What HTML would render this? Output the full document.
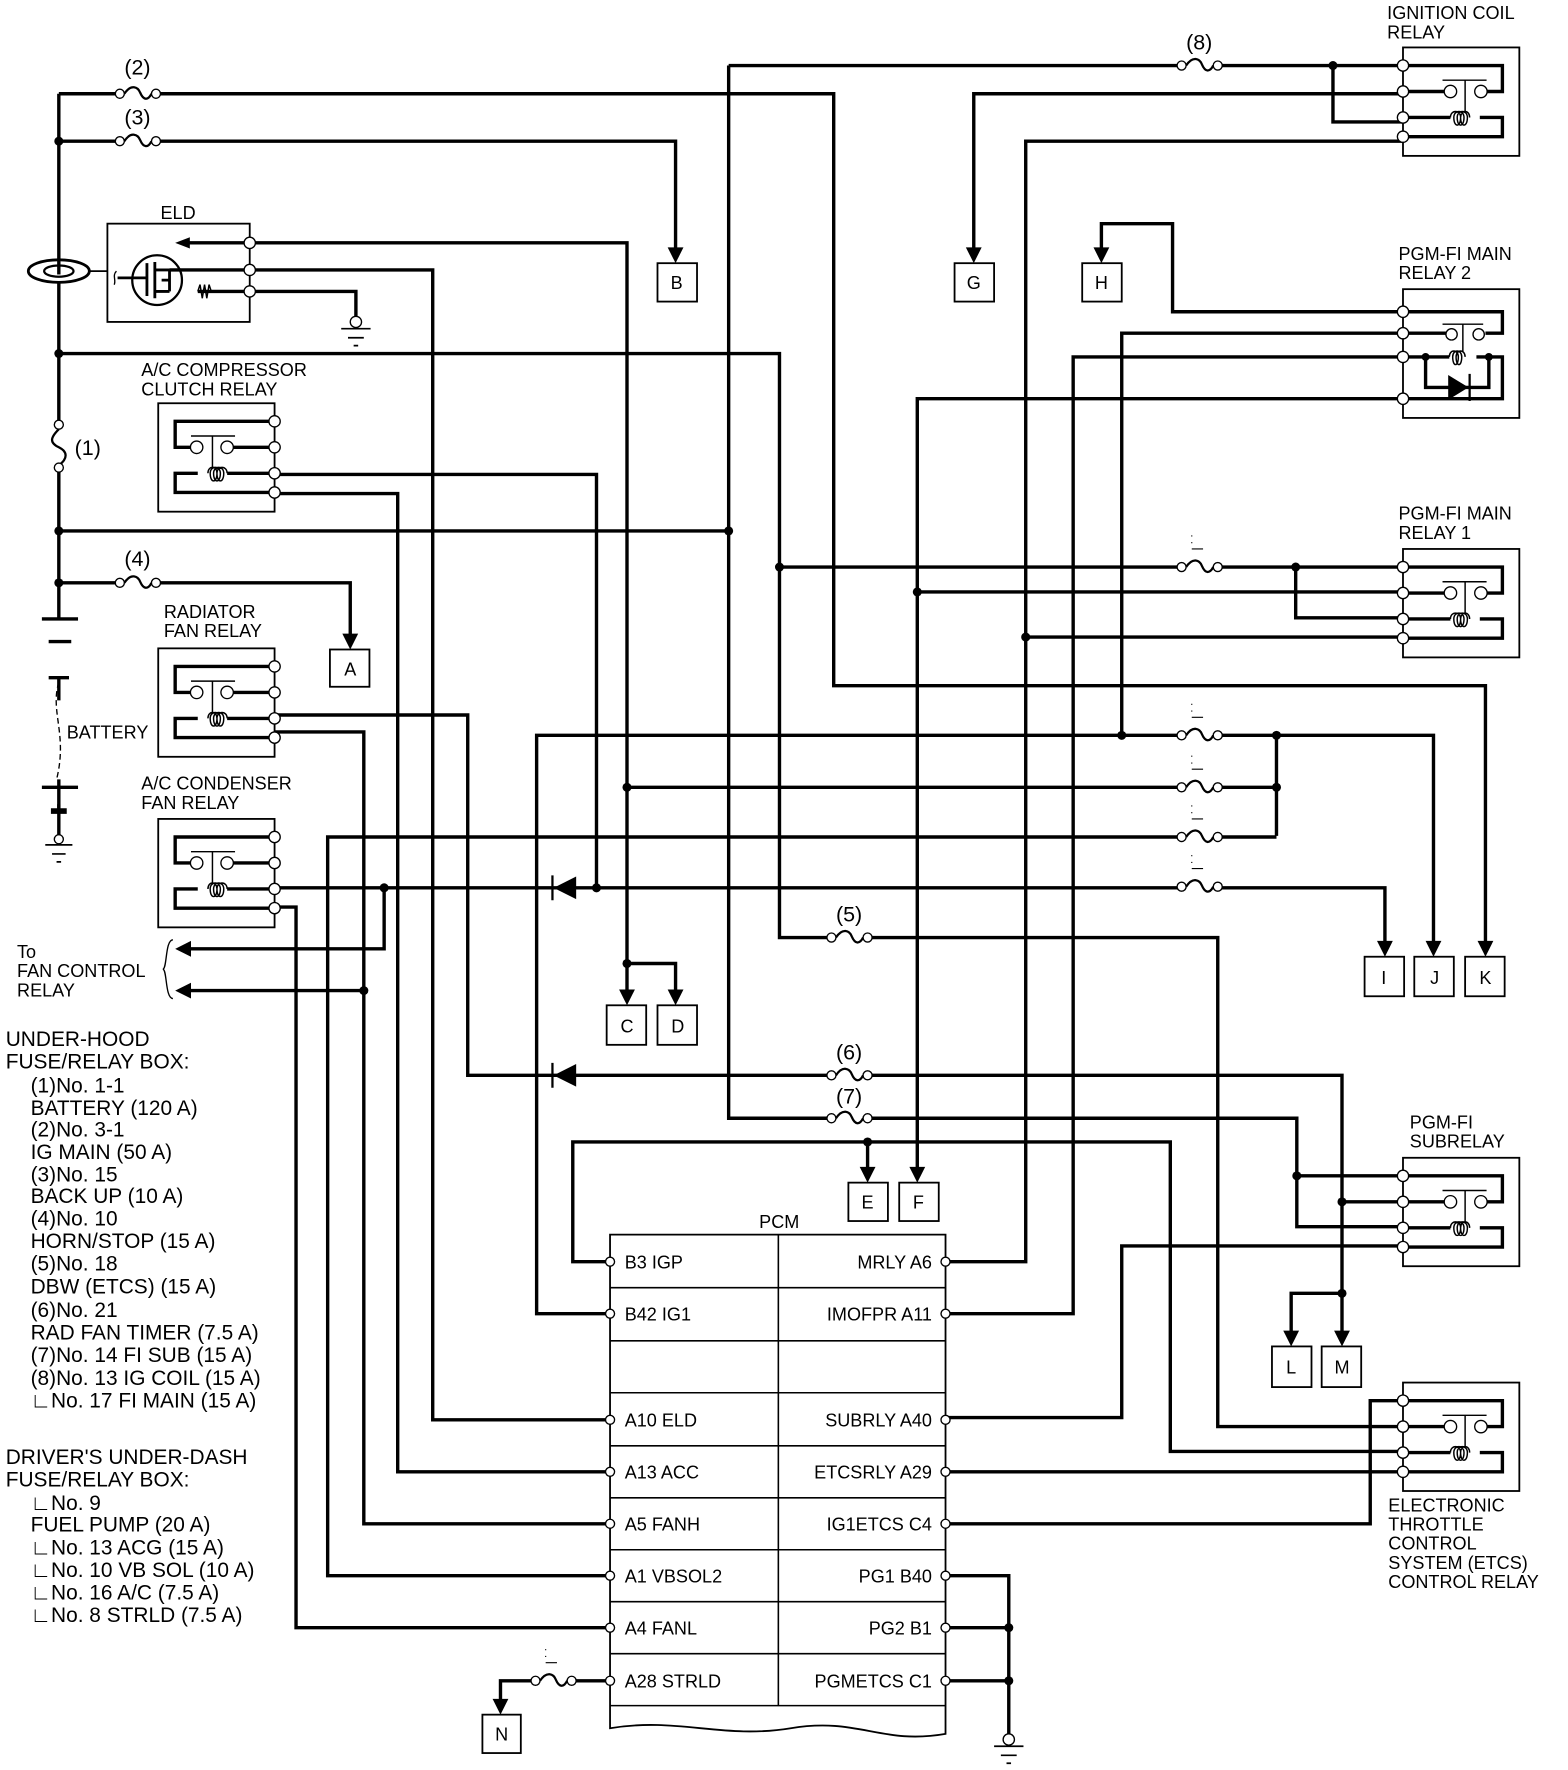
<!DOCTYPE html>
<html><head><meta charset="utf-8"><style>
html,body{margin:0;padding:0;background:#fff}
svg{display:block}
text{font-family:"Liberation Sans",Arial,sans-serif;fill:#000}
</style></head><body>
<svg width="1568" height="1770" viewBox="0 0 1388 1567" xmlns="http://www.w3.org/2000/svg">
<defs>
<g id="rr">
 <rect x="0" y="-16" width="103" height="96" fill="#fff" stroke="#000" stroke-width="1.6"/>
 <path d="M0 0H88V23H74 M0 23H37 M0 46H42 M68 46H88V63H0" fill="none" stroke="#000" stroke-width="3"/>
 <path d="M35 13H74 M55 13V42" stroke="#000" stroke-width="1.3" fill="none"/>
 <circle cx="42" cy="23" r="5.5" fill="#fff" stroke="#000" stroke-width="1.2"/>
 <circle cx="69" cy="23" r="5.5" fill="#fff" stroke="#000" stroke-width="1.2"/>
 <path d="M42 46c0-7 9-7 9 0c0 9-6 9-6 0c0-7 9-7 9 0c0 9-6 9-6 0c0-7 9-7 9 0c0 9-6 9-6 0c0-7 8-7 8 0" fill="none" stroke="#000" stroke-width="1.3"/>
 <g fill="#fff" stroke="#000" stroke-width="1.2"><circle cx="0" cy="0" r="5"/><circle cx="0" cy="23" r="5"/><circle cx="0" cy="46" r="5"/><circle cx="0" cy="63" r="5"/></g>
</g>
<g id="fz">
 <rect x="-19" y="-6" width="38" height="12" fill="#fff"/>
 <path d="M-12 0C-6 -9 0 -6 2 -1C5 6 9 6 12 0" fill="none" stroke="#000" stroke-width="2"/>
 <circle cx="-16" cy="0" r="4" fill="#fff" stroke="#000" stroke-width="1.2"/>
 <circle cx="16" cy="0" r="4" fill="#fff" stroke="#000" stroke-width="1.2"/>
</g>
<g id="fm"><path d="M-7 -28v1 M-7 -22v1 M-7 -16H3" stroke="#000" stroke-width="1" fill="none"/></g>
<g id="gnd"><circle cx="0" cy="0" r="5" fill="#fff" stroke="#000" stroke-width="1.2"/><path d="M-13 6H13 M-7 14H7 M-2 21H2" stroke="#000" stroke-width="1.5"/></g>
</defs>

<g fill="none" stroke="#000" stroke-width="3">
<path d="M52 83V548"/>
<path d="M52 83H738V607H1315V834"/>
<path d="M52 125H598V220"/>
<path d="M221 215H555V877 M555 853H598V877"/>
<path d="M221 239H383V1257H540"/>
<path d="M221 258H315V280"/>
<path d="M52 313H690V830H1078V1263H1242"/>
<path d="M52 470H645"/>
<path d="M645 58V990H1148V1086H1242 M1148 1041H1242"/>
<path d="M645 58H1242 M1180 58V108H1242"/>
<path d="M1242 83H862V220"/>
<path d="M1242 125H908V1117H837 M908 564H1242"/>
<path d="M975 220V198H1038V276H1242"/>
<path d="M1242 295H993V651"/>
<path d="M1242 316H950V1163H837"/>
<path d="M1242 353H812V1034 M812 524H1242"/>
<path d="M690 502H1242 M1147 502V547H1242"/>
<path d="M540 1163H475V651H1130V740 M1130 651H1269V834"/>
<path d="M555 697H1130"/>
<path d="M540 1395H290V741H1130"/>
<path d="M243 786H1226V834"/>
<path d="M243 420H528V786"/>
<path d="M340 786V840H168 M322 877H168"/>
<path d="M243 437H352V1303H540"/>
<path d="M243 633H414V952H1188V1179 M1188 1145H1143V1179 M1188 1064H1242"/>
<path d="M243 648H322V1349H540"/>
<path d="M243 803H262V1441H540"/>
<path d="M540 1117H507V1011H1036V1285H1242 M768 1011V1034"/>
<path d="M837 1303H1242 M837 1349H1213V1240H1242"/>
<path d="M1242 1103H993V1255H837"/>
<path d="M837 1395H893V1535 M837 1441H893 M837 1488H893"/>
<path d="M540 1488H443V1505"/>
<path d="M52 516H310V562"/>
<path d="M52 600V620 M52 690V720"/>
</g>

<g fill="#000">
<circle cx="52" cy="125" r="4"/><circle cx="52" cy="313" r="4"/><circle cx="52" cy="470" r="4"/><circle cx="52" cy="516" r="4"/>
<circle cx="645" cy="470" r="4"/><circle cx="1180" cy="58" r="4"/><circle cx="690" cy="502" r="4"/><circle cx="1147" cy="502" r="4"/>
<circle cx="812" cy="524" r="4"/><circle cx="908" cy="564" r="4"/><circle cx="993" cy="651" r="4"/><circle cx="1130" cy="651" r="4"/>
<circle cx="1130" cy="697" r="4"/><circle cx="555" cy="697" r="4"/><circle cx="528" cy="786" r="4"/><circle cx="340" cy="786" r="4"/>
<circle cx="322" cy="877" r="4"/><circle cx="555" cy="853" r="4"/><circle cx="768" cy="1011" r="4"/><circle cx="1148" cy="1041" r="4"/>
<circle cx="1188" cy="1064" r="4"/><circle cx="1188" cy="1145" r="4"/><circle cx="893" cy="1441" r="4"/><circle cx="893" cy="1488" r="4"/>
</g>

<g fill="#000">
<polygon points="591,219 605,219 598,233"/>
<polygon points="303,561 317,561 310,575"/>
<polygon points="855,219 869,219 862,233"/>
<polygon points="968,219 982,219 975,233"/>
<polygon points="548,876 562,876 555,890"/>
<polygon points="591,876 605,876 598,890"/>
<polygon points="761,1033 775,1033 768,1047"/>
<polygon points="805,1033 819,1033 812,1047"/>
<polygon points="1219,833 1233,833 1226,847"/>
<polygon points="1262,833 1276,833 1269,847"/>
<polygon points="1308,833 1322,833 1315,847"/>
<polygon points="1136,1178 1150,1178 1143,1192"/>
<polygon points="1181,1178 1195,1178 1188,1192"/>
<polygon points="436,1504 450,1504 443,1518"/>
<polygon points="155,840 169,833 169,847"/>
<polygon points="155,877 169,870 169,884"/>
<polygon points="490,786 510,776 510,796"/>
<polygon points="490,952 510,942 510,962"/>
</g>
<path d="M489 775V797 M489 941V963" stroke="#000" stroke-width="2"/>

<g fill="#fff" stroke="#000" stroke-width="1.6">
<rect x="582" y="233" width="35" height="34"/><rect x="292" y="575" width="35" height="33"/>
<rect x="845" y="233" width="35" height="34"/><rect x="958" y="233" width="35" height="34"/>
<rect x="537" y="890" width="35" height="35"/><rect x="582" y="890" width="35" height="35"/>
<rect x="751" y="1047" width="35" height="34"/><rect x="796" y="1047" width="35" height="34"/>
<rect x="1208" y="847" width="35" height="35"/><rect x="1252" y="847" width="35" height="35"/><rect x="1297" y="847" width="35" height="35"/>
<rect x="1126" y="1192" width="35" height="36"/><rect x="1170" y="1192" width="35" height="36"/>
<rect x="427" y="1518" width="34" height="34"/>
</g>
<g font-size="16" text-anchor="middle">
<text x="599" y="256">B</text><text x="310" y="598">A</text><text x="862" y="256">G</text><text x="975" y="256">H</text>
<text x="555" y="914">C</text><text x="600" y="914">D</text><text x="768" y="1070">E</text><text x="813" y="1070">F</text>
<text x="1225" y="871">I</text><text x="1270" y="871">J</text><text x="1315" y="871">K</text>
<text x="1143" y="1216">L</text><text x="1188" y="1216">M</text><text x="444" y="1541">N</text>
</g>

<use href="#fz" x="122" y="83"/><use href="#fz" x="122" y="125"/><use href="#fz" x="122" y="516"/>
<use href="#fz" x="752" y="830"/><use href="#fz" x="752" y="952"/><use href="#fz" x="752" y="990"/>
<use href="#fz" x="1062" y="58"/><use href="#fz" x="1062" y="502"/>
<use href="#fz" x="1062" y="651"/><use href="#fz" x="1062" y="697"/><use href="#fz" x="1062" y="741"/><use href="#fz" x="1062" y="785"/>
<use href="#fz" x="490" y="1488"/>
<use href="#fm" x="1062" y="502"/><use href="#fm" x="1062" y="651"/><use href="#fm" x="1062" y="697"/><use href="#fm" x="1062" y="741"/><use href="#fm" x="1062" y="785"/><use href="#fm" x="490" y="1488"/>
<rect x="45" y="372" width="14" height="46" fill="#fff"/>
<path d="M52 380C44 388 44 392 52 396C60 400 60 406 52 412" fill="none" stroke="#000" stroke-width="2"/>
<circle cx="52" cy="376" r="4" fill="#fff" stroke="#000" stroke-width="1.2"/><circle cx="52" cy="414" r="4" fill="#fff" stroke="#000" stroke-width="1.2"/>
<g font-size="19">
<text x="110" y="66">(2)</text><text x="110" y="110">(3)</text><text x="66" y="403">(1)</text><text x="110" y="501">(4)</text>
<text x="740" y="816">(5)</text><text x="740" y="938">(6)</text><text x="740" y="977">(7)</text><text x="1050" y="44">(8)</text>
</g>

<use href="#rr" x="1242" y="58"/>
<use href="#rr" x="1242" y="502"/>
<use href="#rr" x="1242" y="1041"/>
<use href="#rr" x="1242" y="1240"/>
<use href="#rr" transform="translate(243,373) scale(-1,1)"/>
<use href="#rr" transform="translate(243,590) scale(-1,1)"/>
<use href="#rr" transform="translate(243,741) scale(-1,1)"/>
<rect x="1242" y="256" width="103" height="114" fill="#fff" stroke="#000" stroke-width="1.6"/>
<path d="M1242 276H1330V295H1315 M1242 295H1281 M1242 316H1283 M1307 316H1330V353H1242 M1262 316V343H1318V316" fill="none" stroke="#000" stroke-width="3"/>
<path d="M1277 287H1313 M1295 287V312" stroke="#000" stroke-width="1.3" fill="none"/>
<circle cx="1285" cy="296" r="5" fill="#fff" stroke="#000" stroke-width="1.2"/><circle cx="1309" cy="296" r="5" fill="#fff" stroke="#000" stroke-width="1.2"/>
<path d="M1283 316c0-7 8-7 8 0c0 9-5 9-5 0c0-7 8-7 8 0c0 9-5 9-5 0c0-7 8-7 8 0" fill="none" stroke="#000" stroke-width="1.3"/>
<polygon points="1282,332 1282,354 1300,343" fill="#000"/><path d="M1301 331V355" stroke="#000" stroke-width="2"/>
<circle cx="1262" cy="316" r="3.5" fill="#000"/><circle cx="1318" cy="316" r="3.5" fill="#000"/>
<g fill="#fff" stroke="#000" stroke-width="1.2"><circle cx="1242" cy="276" r="5"/><circle cx="1242" cy="295" r="5"/><circle cx="1242" cy="316" r="5"/><circle cx="1242" cy="353" r="5"/></g>

<ellipse cx="52" cy="240" rx="27" ry="10" fill="#fff" stroke="#000" stroke-width="2.5"/>
<ellipse cx="52" cy="240" rx="13" ry="5" fill="none" stroke="#000" stroke-width="2"/>
<path d="M52 230V243" stroke="#000" stroke-width="3"/>
<path d="M79 240H95" stroke="#000" stroke-width="1.5"/>
<rect x="95" y="198" width="126" height="87" fill="#fff" stroke="#000" stroke-width="1.6"/>
<path d="M221 215H165 M221 239H150 M221 258H175 M190 258H221" fill="none" stroke="#000" stroke-width="3"/>
<polygon points="155,215 168,210 168,220" fill="#000"/>
<circle cx="139" cy="248" r="22" fill="none" stroke="#000" stroke-width="2"/>
<path d="M104 246H130 M130 233V262 M137 232V264 M137 239H150 M137 258H150 M150 239V258 M143 248H150" fill="none" stroke="#000" stroke-width="2.5"/>
<path d="M175 258l2-6 2 12 2-12 2 12 2-12 2 6" fill="none" stroke="#000" stroke-width="1.3"/>
<path d="M103 240c-4 4 0 8-2 12" fill="none" stroke="#000" stroke-width="1.2"/>
<g fill="#fff" stroke="#000" stroke-width="1.2"><circle cx="221" cy="215" r="5"/><circle cx="221" cy="239" r="5"/><circle cx="221" cy="258" r="5"/></g>
<use href="#gnd" x="315" y="285"/>
<use href="#gnd" x="893" y="1540"/>

<path d="M37 548H69 M43 568H63 M43 600H61 M37 697H69" stroke="#000" stroke-width="3"/>
<path d="M52 712V740" stroke="#000" stroke-width="3"/>
<path d="M45 718H59" stroke="#000" stroke-width="5"/>
<path d="M52 604C44 630 60 650 50 690" fill="none" stroke="#000" stroke-width="1.2" stroke-dasharray="5 3"/>
<path d="M40 748H64 M46 756H58 M50 763H54" stroke="#000" stroke-width="1.5"/>
<circle cx="52" cy="743" r="4" fill="#fff" stroke="#000" stroke-width="1.2"/>

<path d="M153 832C146 832 148 858 144 858C148 858 146 884 153 884" fill="none" stroke="#000" stroke-width="1.2"/>

<path d="M540 1093H837V1535C780 1545 760 1520 700 1530C640 1540 600 1520 540 1530Z" fill="#fff" stroke="#000" stroke-width="1.6"/>
<path d="M689 1093V1510 M540 1140H837 M540 1187H837 M540 1233H837 M540 1280H837 M540 1326H837 M540 1372H837 M540 1418H837 M540 1464H837 M540 1510H837" stroke="#000" stroke-width="1.4"/>
<g fill="#fff" stroke="#000" stroke-width="1.2">
<circle cx="540" cy="1117" r="4"/><circle cx="540" cy="1163" r="4"/><circle cx="540" cy="1257" r="4"/><circle cx="540" cy="1303" r="4"/><circle cx="540" cy="1349" r="4"/><circle cx="540" cy="1395" r="4"/><circle cx="540" cy="1441" r="4"/><circle cx="540" cy="1488" r="4"/>
<circle cx="837" cy="1117" r="4"/><circle cx="837" cy="1163" r="4"/><circle cx="837" cy="1257" r="4"/><circle cx="837" cy="1303" r="4"/><circle cx="837" cy="1349" r="4"/><circle cx="837" cy="1395" r="4"/><circle cx="837" cy="1441" r="4"/><circle cx="837" cy="1488" r="4"/>
</g>
<g font-size="16">
<text x="672" y="1087">PCM</text>
<text x="553" y="1123">B3 IGP</text><text x="553" y="1169">B42 IG1</text><text x="553" y="1263">A10 ELD</text><text x="553" y="1309">A13 ACC</text>
<text x="553" y="1355">A5 FANH</text><text x="553" y="1401">A1 VBSOL2</text><text x="553" y="1447">A4 FANL</text><text x="553" y="1494">A28 STRLD</text>
</g>
<g font-size="16" text-anchor="end">
<text x="825" y="1123">MRLY A6</text><text x="825" y="1169">IMOFPR A11</text><text x="825" y="1263">SUBRLY A40</text><text x="825" y="1309">ETCSRLY A29</text>
<text x="825" y="1355">IG1ETCS C4</text><text x="825" y="1401">PG1 B40</text><text x="825" y="1447">PG2 B1</text><text x="825" y="1494">PGMETCS C1</text>
</g>

<g font-size="16">
<text x="1228" y="17">IGNITION COIL</text><text x="1228" y="34">RELAY</text>
<text x="1238" y="230">PGM-FI MAIN</text><text x="1238" y="247">RELAY 2</text>
<text x="1238" y="460">PGM-FI MAIN</text><text x="1238" y="477">RELAY 1</text>
<text x="1248" y="999">PGM-FI</text><text x="1248" y="1016">SUBRELAY</text>
<text x="1229" y="1338">ELECTRONIC</text><text x="1229" y="1355">THROTTLE</text><text x="1229" y="1372">CONTROL</text><text x="1229" y="1389">SYSTEM (ETCS)</text><text x="1229" y="1406">CONTROL RELAY</text>
<text x="142" y="194">ELD</text>
<text x="125" y="333">A/C COMPRESSOR</text><text x="125" y="350">CLUTCH RELAY</text>
<text x="145" y="547">RADIATOR</text><text x="145" y="564">FAN RELAY</text>
<text x="125" y="699">A/C CONDENSER</text><text x="125" y="716">FAN RELAY</text>
<text x="59" y="654">BATTERY</text>
<text x="15" y="848">To</text><text x="15" y="865">FAN CONTROL</text><text x="15" y="882">RELAY</text>
</g>
<g font-size="18.5">
<text x="5" y="926">UNDER-HOOD</text>
<text x="5" y="946">FUSE/RELAY BOX:</text>
<text x="27" y="967">(1)No. 1-1</text>
<text x="27" y="987">BATTERY (120 A)</text>
<text x="27" y="1006">(2)No. 3-1</text>
<text x="27" y="1026">IG MAIN (50 A)</text>
<text x="27" y="1046">(3)No. 15</text>
<text x="27" y="1065">BACK UP (10 A)</text>
<text x="27" y="1085">(4)No. 10</text>
<text x="27" y="1105">HORN/STOP (15 A)</text>
<text x="27" y="1125">(5)No. 18</text>
<text x="27" y="1145">DBW (ETCS) (15 A)</text>
<text x="27" y="1166">(6)No. 21</text>
<text x="27" y="1186">RAD FAN TIMER (7.5 A)</text>
<text x="27" y="1206">(7)No. 14 FI SUB (15 A)</text>
<text x="27" y="1226">(8)No. 13 IG COIL (15 A)</text>
<text x="27" y="1246">∟No. 17 FI MAIN (15 A)</text>
<text x="5" y="1296">DRIVER'S UNDER-DASH</text>
<text x="5" y="1316">FUSE/RELAY BOX:</text>
<text x="27" y="1337">∟No. 9</text>
<text x="27" y="1356">FUEL PUMP (20 A)</text>
<text x="27" y="1376">∟No. 13 ACG (15 A)</text>
<text x="27" y="1396">∟No. 10 VB SOL (10 A)</text>
<text x="27" y="1416">∟No. 16 A/C (7.5 A)</text>
<text x="27" y="1436">∟No. 8 STRLD (7.5 A)</text>
</g>
</svg>
</body></html>
